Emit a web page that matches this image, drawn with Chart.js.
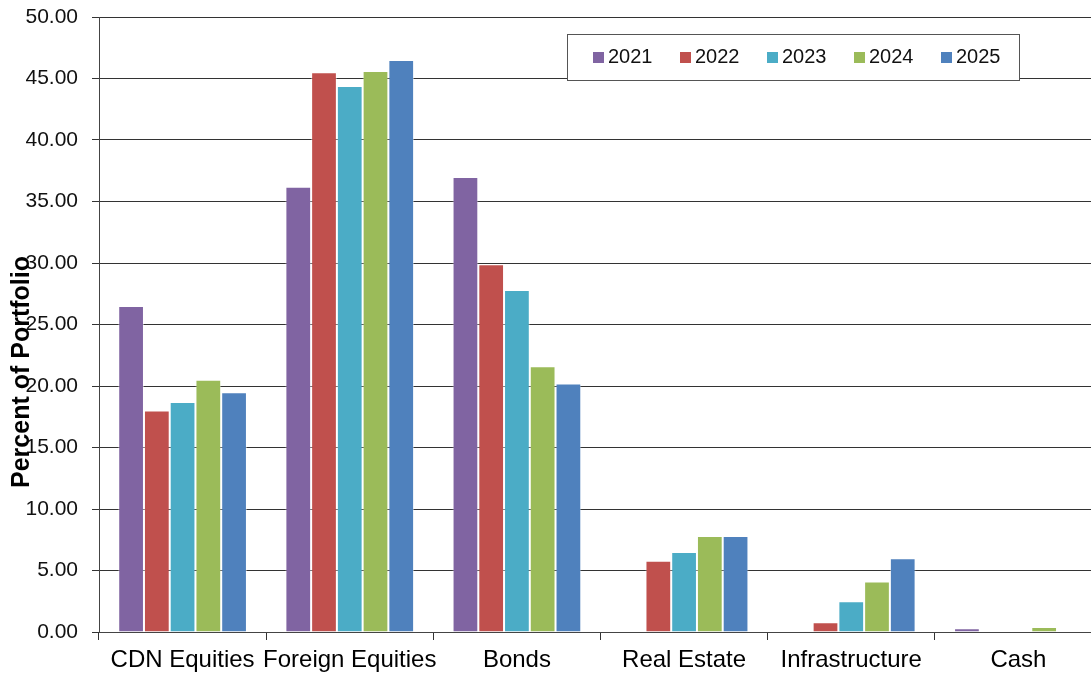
<!DOCTYPE html>
<html lang="en">
<head>
    <meta charset="UTF-8">
    <title>Portfolio Asset Mix</title>
    <style>
        html, body {
            margin: 0;
            padding: 0;
            background: #fff;
            overflow: hidden;
        }

        .chart-container {
            width: 1102px;
            height: 677px;
        }
    </style>
    <script src="https://cdn.jsdelivr.net/npm/chart.js"></script>
</head>
<body>
    <div class="chart-container">
        <canvas id="mixChart"></canvas>
    </div>

    <script>
        const categories = ['CDN Equities', 'Foreign Equities', 'Bonds', 'Real Estate', 'Infrastructure', 'Cash'];
        const years = ['2021', '2022', '2023', '2024', '2025'];
        const values2021 = [26.5, 36.2, 37.0, 0, 0, 0.3];
        const values2022 = [18.0, 45.5, 29.9, 5.8, 0.8, 0];
        const values2023 = [18.7, 44.4, 27.8, 6.5, 2.5, 0.05];
        const values2024 = [20.5, 45.6, 21.6, 7.8, 4.1, 0.4];
        const values2025 = [19.5, 46.5, 20.2, 7.8, 6.0, 0];
        const colors = ['#8064A2', '#C0504D', '#4BACC6', '#9BBB59', '#4F81BD'];

        const fontFamily = "'Liberation Sans', Arial, sans-serif";
        const allValues = [values2021, values2022, values2023, values2024, values2025];

        // Box legend drawn inside the plot, plus the overlapping axis title
        const extrasPlugin = {
            id: 'extras',
            afterDraw(chart) {
                const ctx = chart.ctx;
                ctx.save();

                // legend box
                ctx.fillStyle = '#fff';
                ctx.fillRect(567, 34, 452, 46);
                ctx.strokeStyle = '#555';
                ctx.lineWidth = 1;
                ctx.strokeRect(567.5, 34.5, 452, 46);
                ctx.font = '20px ' + fontFamily;
                ctx.textBaseline = 'middle';
                chart.data.datasets.forEach((ds, i) => {
                    const x = 593 + i * 87;
                    ctx.fillStyle = ds.backgroundColor;
                    ctx.fillRect(x, 52, 11, 11);
                    ctx.fillStyle = '#111';
                    ctx.fillText(ds.label, x + 15, 57);
                });

                // y axis title
                ctx.translate(22, 372);
                ctx.rotate(-Math.PI / 2);
                ctx.font = 'bold 25px ' + fontFamily;
                ctx.textAlign = 'center';
                ctx.fillStyle = '#000';
                ctx.fillText('Percent of Portfolio', 0, 0);
                ctx.restore();
            }
        };

        const ctx = document.getElementById('mixChart').getContext('2d');
        new Chart(ctx, {
            type: 'bar',
            data: {
                labels: categories,
                datasets: years.map((year, i) => ({
                    label: year,
                    data: allValues[i],
                    backgroundColor: colors[i],
                    borderColor: 'rgba(255,255,255,0.45)',
                    borderWidth: 1,
                    categoryPercentage: 0.77,
                    barPercentage: 1.0
                }))
            },
            options: {
                responsive: true,
                maintainAspectRatio: false,
                animation: false,
                layout: {
                    padding: { top: 17, left: 0, right: 0, bottom: 0 }
                },
                plugins: {
                    legend: { display: false },
                    tooltip: { enabled: false }
                },
                scales: {
                    x: {
                        grid: {
                            offset: true,
                            drawOnChartArea: false,
                            tickLength: 8,
                            color: '#333'
                        },
                        border: { color: '#444', width: 1 },
                        ticks: {
                            font: { family: fontFamily, size: 24 },
                            color: '#000',
                            padding: 6,
                            maxRotation: 0,
                            autoSkip: false
                        },
                        afterFit(scale) {
                            scale.height = 45;
                            scale.paddingLeft = 0;
                            scale.paddingRight = 0;
                        }
                    },
                    y: {
                        min: 0,
                        max: 50,
                        grid: {
                            color: '#333',
                            lineWidth: 1,
                            tickLength: 7
                        },
                        border: { color: '#444', width: 1 },
                        ticks: {
                            stepSize: 5,
                            font: { family: fontFamily, size: 21 },
                            color: '#111',
                            padding: 14,
                            callback: v => v.toFixed(2)
                        },
                        afterFit(scale) {
                            scale.width = 99;
                            scale.paddingTop = 0;
                            scale.paddingBottom = 0;
                        }
                    }
                }
            },
            plugins: [extrasPlugin]
        });
    </script>
</body>
</html>
